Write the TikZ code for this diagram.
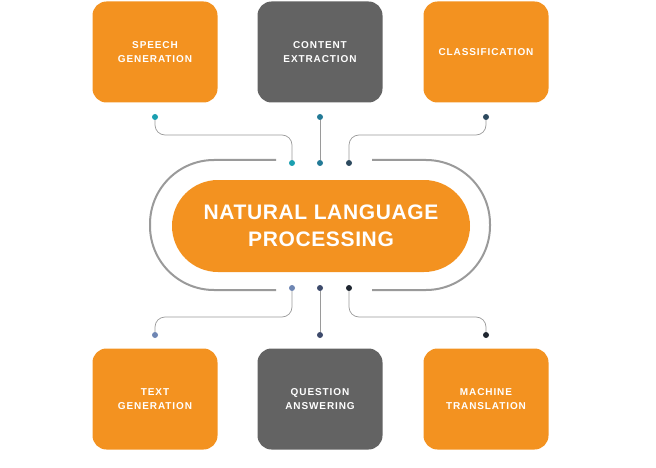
\documentclass[tikz,border=0pt]{standalone}
\usepackage{fontspec}
\setmainfont{Liberation Sans}
\newfontfamily\boxfont[LetterSpace=9]{Liberation Sans}
\newfontfamily\titlefont[LetterSpace=3]{Liberation Sans}
\usepackage{tikz}
\usetikzlibrary{positioning}
\definecolor{nlporange}{HTML}{F39220}
\definecolor{nlpgray}{HTML}{636363}
\definecolor{trackgray}{HTML}{9A9A9A}
\definecolor{dotA}{HTML}{1A9FB0}
\definecolor{dotB}{HTML}{237A96}
\definecolor{dotC}{HTML}{2D4A5F}
\definecolor{dotD}{HTML}{6E86B3}
\definecolor{dotE}{HTML}{3D4A6B}
\definecolor{dotF}{HTML}{1E2530}
\tikzset{
  task/.style={rounded corners=14pt, minimum width=125pt, minimum height=101pt,
    text=white, font=\boxfont\bfseries\fontsize{10}{13.5}\selectfont, align=center},
  orangebox/.style={task, fill=nlporange},
  graybox/.style={task, fill=nlpgray},
  pin/.style={circle, inner sep=0pt, minimum size=6pt},
  wire/.style={draw=trackgray, line width=0.7pt, rounded corners=10pt},
}
\begin{document}
\begin{tikzpicture}[x=1pt,y=-1pt]
\useasboundingbox (0,0) rectangle (656,468);

% track around the centre
\draw[trackgray, line width=2pt, rounded corners=64pt]
  (276,160) -- (150,160) -- (150,290) -- (276,290);
\draw[trackgray, line width=2pt, rounded corners=64pt]
  (372,160) -- (490,160) -- (490,290) -- (372,290);

% centre
\node[fill=nlporange, rounded corners=46pt, minimum width=298pt, minimum height=92pt,
  text=white, font=\titlefont\bfseries\fontsize{21}{27}\selectfont, align=center]
  (nlp) at (321,226) {NATURAL LANGUAGE\\PROCESSING};

% tasks
\node[orangebox] (speech) at (155,52) {SPEECH\\GENERATION};
\node[graybox] (content) at (320,52) {CONTENT\\EXTRACTION};
\node[orangebox] (classif) at (486,52) {CLASSIFICATION};
\node[orangebox] (text) at (155,399) {TEXT\\GENERATION};
\node[graybox] (question) at (320,399) {QUESTION\\ANSWERING};
\node[orangebox] (machine) at (486,399) {MACHINE\\TRANSLATION};

% pins
\node[pin, fill=dotA] (p1) at (155,117) {};
\node[pin, fill=dotB] (p2) at (320,117) {};
\node[pin, fill=dotC] (p3) at (486,117) {};
\node[pin, fill=dotA] (q1) at (292,163) {};
\node[pin, fill=dotB] (q2) at (320,163) {};
\node[pin, fill=dotC] (q3) at (349,163) {};
\node[pin, fill=dotD] (r1) at (292,288) {};
\node[pin, fill=dotE] (r2) at (320,288) {};
\node[pin, fill=dotF] (r3) at (349,288) {};
\node[pin, fill=dotD] (s1) at (155,335) {};
\node[pin, fill=dotE] (s2) at (320,335) {};
\node[pin, fill=dotF] (s3) at (486,335) {};

% wires
\draw[wire] (p1) |- (292,135) -- (q1);
\draw[wire] (p2) -- (q2);
\draw[wire] (p3) |- (349,135) -- (q3);
\draw[wire] (r1) -- (292,317) -| (s1);
\draw[wire] (r2) -- (s2);
\draw[wire] (r3) -- (349,317) -| (s3);
\end{tikzpicture}
\end{document}
